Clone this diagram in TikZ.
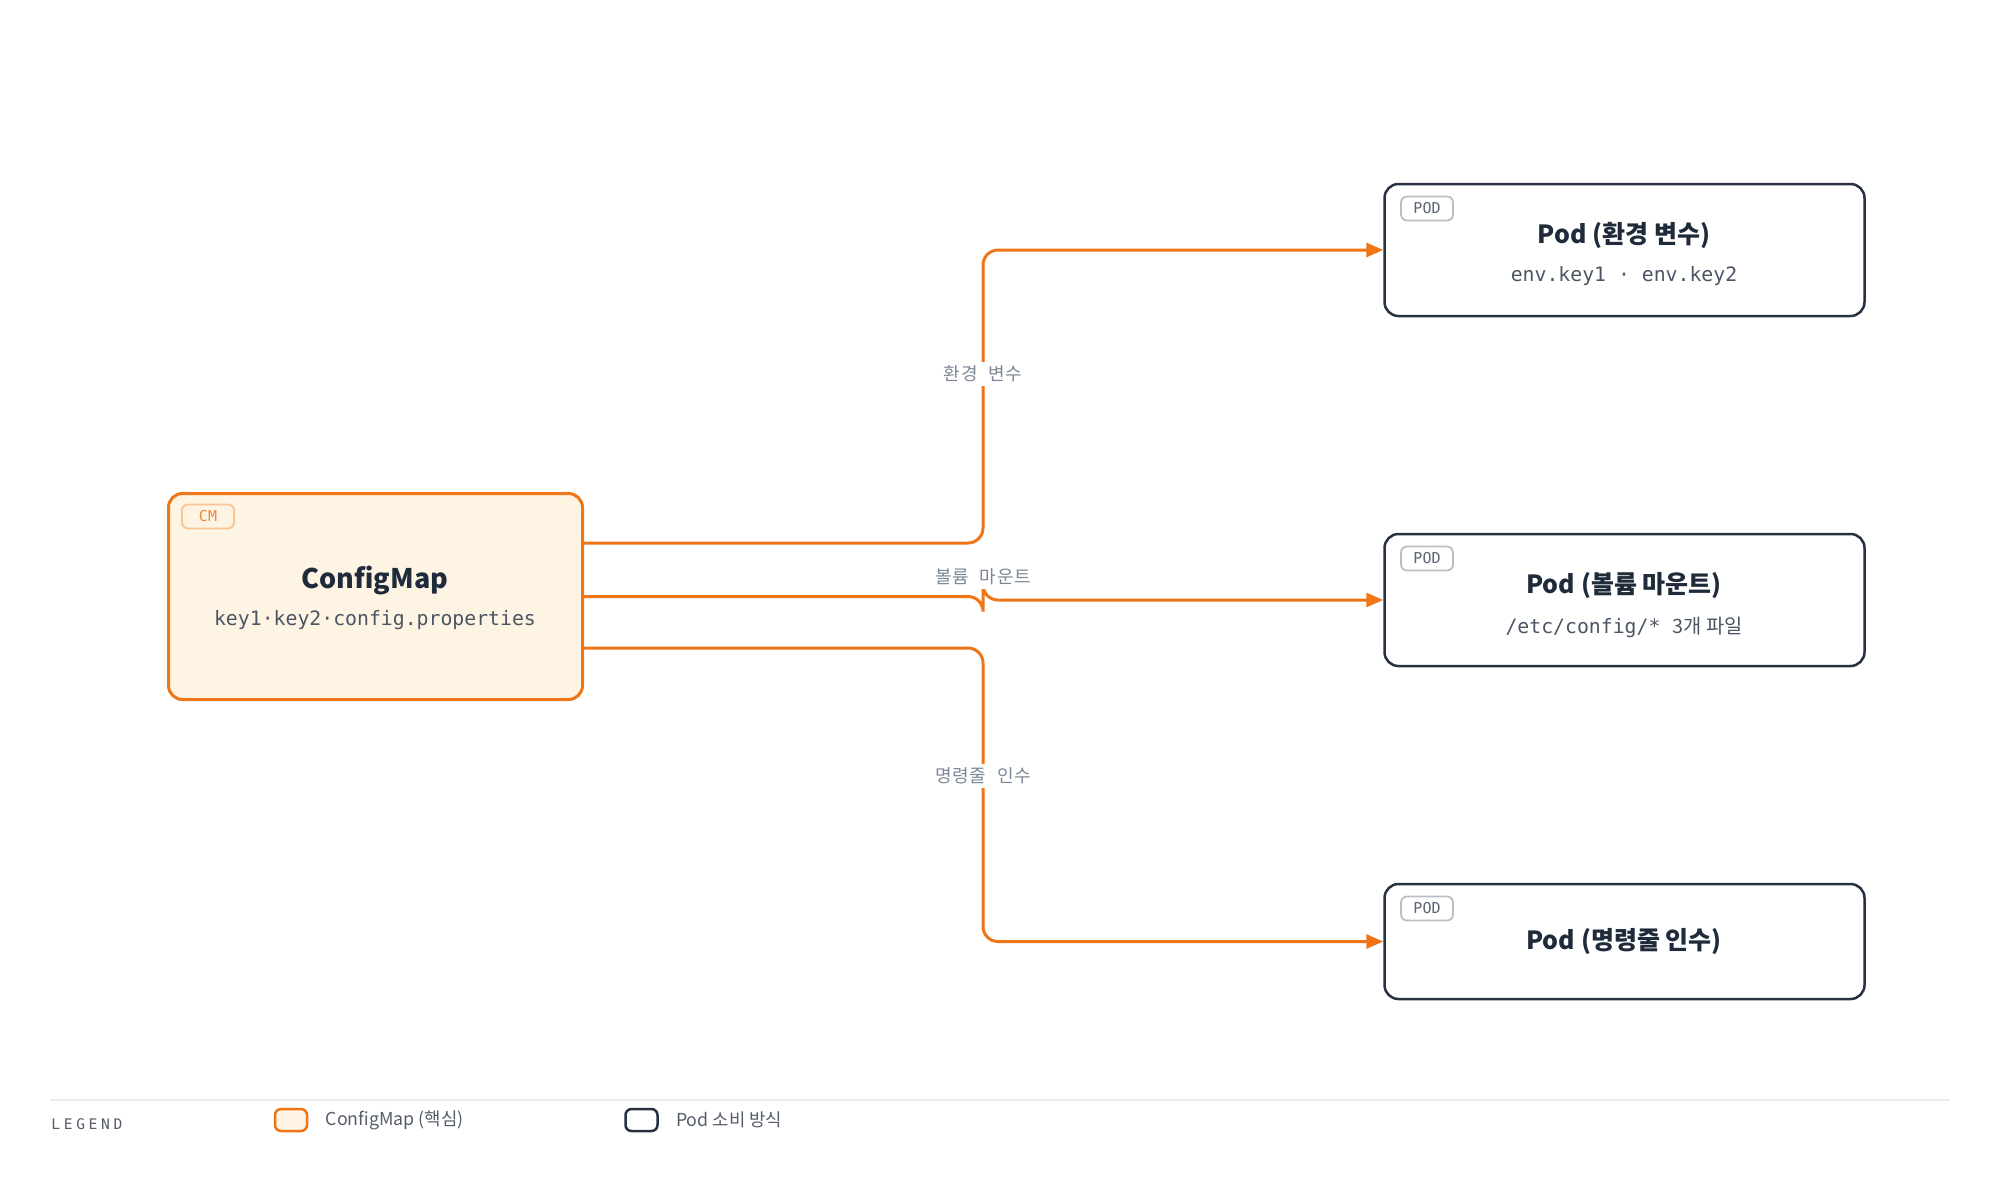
\documentclass[tikz,border=0pt]{standalone}
\usepackage{fontspec}
\setmainfont{Noto Sans CJK KR}
\setmonofont{DejaVu Sans Mono}
\usetikzlibrary{arrows.meta,positioning,calc}

\definecolor{cmorange}{HTML}{EF7516}
\definecolor{cmfill}{HTML}{FEF4E3}
\definecolor{cmtagline}{HTML}{F9C48F}
\definecolor{cmtagtext}{HTML}{F0883A}
\definecolor{podline}{HTML}{273142}
\definecolor{tagline}{HTML}{B9BEC6}
\definecolor{tagtext}{HTML}{5B6472}
\definecolor{titletext}{HTML}{1F2A3A}
\definecolor{subtext}{HTML}{4B5563}
\definecolor{labeltext}{HTML}{7D8797}
\definecolor{legendline}{HTML}{EBEBEB}
\definecolor{legendtext}{HTML}{555D6A}

\begin{document}
\begin{tikzpicture}[x=0.5pt, y=-0.5pt, >={Triangle[length=8.5pt,width=7pt]},
    cmbox/.style={draw=cmorange, fill=cmfill, line width=1.5pt, rounded corners=7pt,
        minimum width=207pt, minimum height=103pt, inner sep=0pt},
    podbox/.style={draw=podline, fill=white, line width=1.25pt, rounded corners=7pt,
        minimum width=240pt, minimum height=66pt, inner sep=0pt},
    tagbox/.style={draw=tagline, line width=0.9pt, rounded corners=3pt, text=tagtext,
        minimum width=26pt, minimum height=12pt, inner sep=0pt,
        font=\ttfamily\fontsize{7.5}{8}\selectfont},
    title/.style={text=titletext, inner sep=0pt, font=\bfseries\fontsize{12.5}{14}\selectfont},
    subtitle/.style={text=subtext, inner sep=0pt, font=\ttfamily\fontsize{9.9}{12}\selectfont},
    flow/.style={draw=cmorange, line width=1.5pt, rounded corners=7.5pt},
    flowlabel/.style={text=labeltext, fill=white, inner sep=2pt,
        font=\fontsize{9}{11}\selectfont\addfontfeature{LetterSpace=4}},
    swatch/.style={line width=1.25pt, rounded corners=3pt, minimum width=16pt,
        minimum height=11pt, inner sep=0pt},
    legendtext/.style={text=legendtext, inner sep=0pt, font=\fontsize{8.9}{10}\selectfont}]

    \fill[white] (0,0) rectangle (2000,1200);
    \useasboundingbox (0,0) rectangle (2000,1200);

    % ConfigMap
    \node [cmbox] (cm) at (375.5,596.5) {};
    \node [tagbox, draw=cmtagline, text=cmtagtext] (cmtag) at (208,516.5) {CM};
    \node [title, font=\bfseries\fontsize{13.5}{16}\selectfont] (cmtitle) at (375,580) {ConfigMap};
    \node [subtitle] (cmsub) at (375,620) {key1·key2·config.properties};

    % Pods
    \node [podbox] (podenv) at (1624.5,250) {};
    \node [tagbox] (envtag) at (1427,208.5) {POD};
    \node [title] (envtitle) at (1624,235) {Pod (환경 변수)};
    \node [subtitle] (envsub) at (1624,276) {env.key1 · env.key2};

    \node [podbox] (podvol) at (1624.5,600) {};
    \node [tagbox] (voltag) at (1427,558.5) {POD};
    \node [title] (voltitle) at (1624,586) {Pod (볼륨 마운트)};
    \node [subtitle] (volsub) at (1624,627) {/etc/config/* {\rmfamily 3개 파일}};

    \node [podbox, minimum height=57.5pt] (podarg) at (1624.5,941.5) {};
    \node [tagbox] (argtag) at (1427,908.5) {POD};
    \node [title] (argtitle) at (1624,942) {Pod (명령줄 인수)};

    % Connectors
    \coordinate (bend) at (983,0);
    \draw [flow, ->] ([yshift=26.75pt]cm.east) -| (bend |- podenv.west) -- (podenv.west);
    \draw [flow, ->] (cm.east) -| (bend |- podvol.west) -- (podvol.west);
    \draw [flow, ->] ([yshift=-25.75pt]cm.east) -| (bend |- podarg.west) -- (podarg.west);
    \node [flowlabel] (lblenv) at (983,374) {환경\hspace{3pt} 변수};
    \node [flowlabel] (lblvol) at (983,577) {볼륨\hspace{3pt} 마운트};
    \node [flowlabel] (lblarg) at (983,776) {명령줄\hspace{3pt} 인수};

    % Legend
    \draw [legendline, line width=1pt] (50,1100) -- (1950,1100);
    \node [anchor=west, inner sep=0pt, text=legendtext,
        font=\ttfamily\fontsize{7.3}{8}\selectfont\addfontfeature{LetterSpace=25}] (lgd) at (51,1124) {LEGEND};
    \node [swatch, draw=cmorange, fill=cmfill] (swcm) at (291,1120) {};
    \node [legendtext, right=8.5pt of swcm] (lgdcm) {ConfigMap (핵심)};
    \node [swatch, draw=podline, fill=white] (swpod) at (641.5,1120) {};
    \node [legendtext, right=8.5pt of swpod] (lgdpod) {Pod 소비 방식};
\end{tikzpicture}
\end{document}
